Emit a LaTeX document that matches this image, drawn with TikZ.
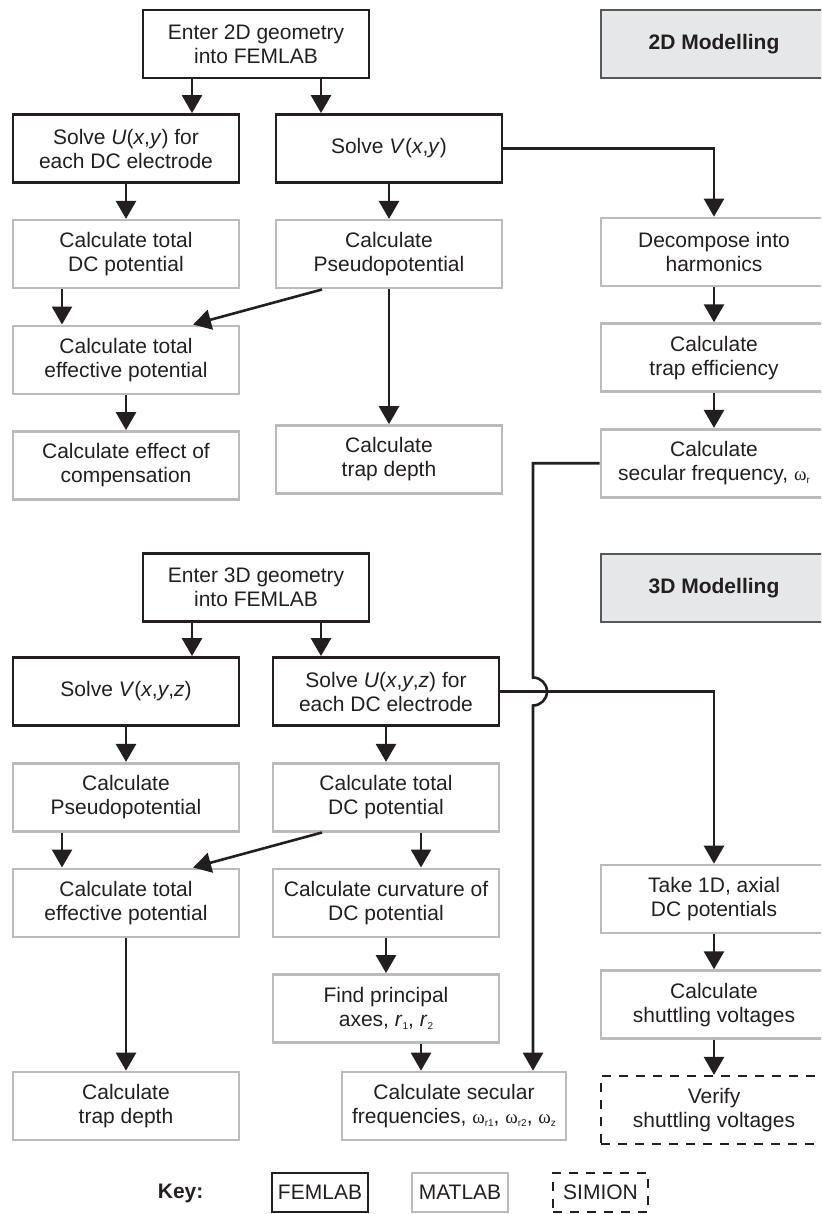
\documentclass[tikz,border=0pt]{standalone}
\usepackage{fontspec}
\setmainfont{Liberation Sans}
\newfontfamily\omfont{Liberation Serif}
\usetikzlibrary{arrows.meta,positioning}
\definecolor{ink}{HTML}{231F20}
\definecolor{mgray}{HTML}{BBBBBB}
\definecolor{hfill}{HTML}{E6E7E8}
\definecolor{hline}{HTML}{58595B}
% omega with a small subscript
\newcommand{\om}[1]{{\omfont\fontsize{19}{19}\selectfont ω}\raisebox{-3pt}{\fontsize{10}{10}\selectfont #1}}

\begin{document}
\begin{tikzpicture}[x=1pt, y=-1pt, ->, >={Triangle[length=18pt,width=20pt]}, line width=2.6pt, draw=ink, node distance=35pt, font=\fontsize{21}{24}\selectfont]
\tikzstyle{box}=[rectangle, minimum width=226pt, minimum height=68pt, align=center, inner sep=2pt, text=ink]
\tikzstyle{femlab}=[box, draw=ink, line width=2.8pt]
\tikzstyle{matlab}=[box, draw=mgray, line width=2.6pt]
\tikzstyle{simion}=[box, draw=ink, line width=2.4pt, dash pattern=on 9pt off 8pt]
\tikzstyle{heading}=[box, fill=hfill, draw=hline, line width=1.3pt, font=\fontsize{21}{24}\selectfont\bfseries]
\clip (0,0) rectangle (821,1214);

% 2D modelling
\node[femlab]   (G2) at (256,44)    {Enter 2D geometry\\into FEMLAB};
\node[heading]  (H2) at (714,44)    {2D Modelling};
\node[femlab]   (U2) at (126,148.5) {Solve \textit{U}(\textit{x},\textit{y}) for\\each DC electrode};
\node[femlab]   (V2) at (389,148.5) {Solve \textit{V}(\textit{x},\textit{y})};
\node[matlab]   (DC2)[below=of U2]  {Calculate total\\DC potential};
\node[matlab]   (P2)[below=of V2]   {Calculate\\Pseudopotential};
\node[matlab]   (E2)[below=of DC2]  {Calculate total\\effective potential};
\node[matlab]   (C2)[below=of E2]   {Calculate effect of\\compensation};
\node[matlab]   (TD2) at (389,459.5) {Calculate\\trap depth};
\node[matlab]   (D2) at (714,252)   {Decompose into\\harmonics};
\node[matlab]   (T2)[below=of D2]   {Calculate\\trap efficiency};
\node[matlab]   (F2)[below=of T2]   {Calculate\\secular frequency, \om{r}};

% 3D modelling
\node[femlab]   (G3) at (256,587.5) {Enter 3D geometry\\into FEMLAB};
\node[heading]  (H3) at (714,588)   {3D Modelling};
\node[femlab]   (V3) at (126,691.5) {Solve \textit{V}(\textit{x},\textit{y},\textit{z})};
\node[femlab]   (U3) at (386,691.5) {Solve \textit{U}(\textit{x},\textit{y},\textit{z}) for\\each DC electrode};
\node[matlab]   (P3)[below=of V3]   {Calculate\\Pseudopotential};
\node[matlab]   (E3)[below=of P3]   {Calculate total\\effective potential};
\node[matlab]   (T3)[below=of U3]   {Calculate total\\DC potential};
\node[matlab]   (C3)[below=of T3]   {Calculate curvature of\\DC potential};
\node[matlab]   (A3)[below=of C3]   {Find principal\\axes, \textit{r}\raisebox{-3pt}{\fontsize{10}{10}\selectfont 1}, \textit{r}\raisebox{-3pt}{\fontsize{10}{10}\selectfont 2}};
\node[matlab]   (D3) at (126,1106)  {Calculate\\trap depth};
\node[matlab, minimum width=224pt] (S3) at (454,1106) {Calculate secular\\frequencies, \om{r1}, \om{r2}, \om{z}};
\node[matlab]   (R1) at (714,899)   {Take 1D, axial\\DC potentials};
\node[matlab]   (R2)[below=of R1]   {Calculate\\shuttling voltages};
\node[simion]   (R3)[below=of R2]   {Verify\\shuttling voltages};

% key
\node[anchor=east, text=ink, font=\fontsize{21}{24}\selectfont\bfseries] (K) at (208,1193) {Key:};
\node[femlab, minimum width=96pt, minimum height=39pt] (KF) at (320,1192.5) {FEMLAB};
\node[matlab, minimum width=96pt, minimum height=39pt] (KM) at (460,1192.5) {MATLAB};
\node[simion, minimum width=95pt, minimum height=39pt] (KS) at (600.5,1192.5) {SIMION};

% connectors, 2D
\draw ([xshift=-64pt]G2.south) -- ([xshift=-64pt]G2.south |- U2.north);
\draw ([xshift=65pt]G2.south) -- ([xshift=65pt]G2.south |- V2.north);
\draw (U2) -- (DC2);
\draw (V2) -- (P2);
\draw (V2.east) -| (D2.north);
\draw ([xshift=-64pt]DC2.south) -- ([xshift=-64pt]DC2.south |- E2.north);
\draw ([xshift=-67pt]P2.south) -- ([xshift=67pt]E2.north);
\draw (P2) -- (TD2);
\draw (E2) -- (C2);
\draw (D2) -- (T2);
\draw (T2) -- (F2);

% connectors, 3D
\draw ([xshift=-64pt]G3.south) -- ([xshift=-64pt]G3.south |- V3.north);
\draw ([xshift=65pt]G3.south) -- ([xshift=65pt]G3.south |- U3.north);
\draw (V3) -- (P3);
\draw (U3) -- (T3);
\draw ([xshift=-64pt]P3.south) -- ([xshift=-64pt]P3.south |- E3.north);
\draw ([xshift=-64pt]T3.south) -- ([xshift=67pt]E3.north);
\draw ([xshift=35pt]T3.south) -- ([xshift=35pt]T3.south |- C3.north);
\draw (C3) -- (A3);
\draw ([xshift=35pt]A3.south) -- ([xshift=35pt]A3.south |- S3.north);
\draw (E3) -- (D3);
\draw (U3.east) -| (R1.north);
\draw (R1) -- (R2);
\draw (R2) -- (R3);

% long line from 2D to 3D, hopping over
\coordinate (hop) at (533,691.5);
\draw (F2.west) -| ([yshift=14pt]hop) arc[start angle=90, end angle=-90, radius=14pt] -- (hop |- S3.north);
\end{tikzpicture}
\end{document}
